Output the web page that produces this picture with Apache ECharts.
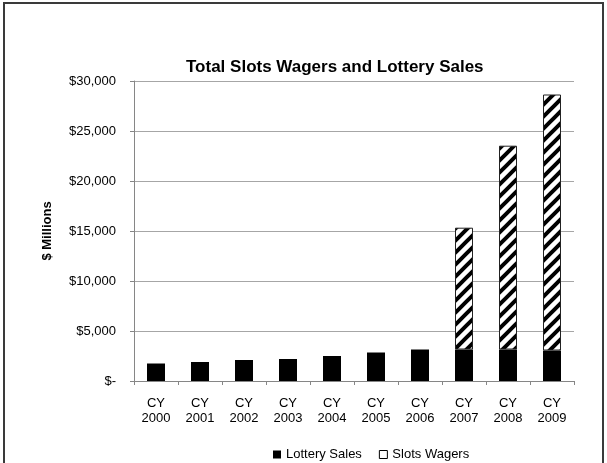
<!DOCTYPE html>
<html lang="en">
<head>
  <meta charset="UTF-8">
  <title>Total Slots Wagers and Lottery Sales</title>
  <script type="text/javascript" src="https://cdn.jsdelivr.net/npm/echarts@6/dist/echarts.min.js"></script>
  <style>
    html, body { margin: 0; padding: 0; background: #fff; }
    #chart { width: 607px; height: 463px; }
  </style>
</head>
<body>
  <div id="chart"></div>
  <script type="text/javascript">
    // values in $ millions (null = no slots yet)
    var years = ['2000', '2001', '2002', '2003', '2004', '2005', '2006', '2007', '2008', '2009'];
    var lotterySales = [1750, 1900, 2100, 2200, 2500, 2850, 3150, 3150, 3150, 3050];
    var slotsWagers = [null, null, null, null, null, null, null, 12180, 20380, 25600];
    var yTickLabels = ['$-', '$5,000', '$10,000', '$15,000', '$20,000', '$25,000', '$30,000'];

    var font = 'Liberation Sans, Arial, sans-serif';

    // diagonal black/white stripes for the slots bars
    function makeHatch() {
      var s = 12;
      var c = document.createElement('canvas');
      c.width = s; c.height = s;
      var ctx = c.getContext('2d');
      ctx.fillStyle = '#fff';
      ctx.fillRect(0, 0, s, s);
      ctx.strokeStyle = '#000';
      ctx.lineWidth = 4;
      ctx.beginPath();
      ctx.moveTo(-3, 3); ctx.lineTo(3, -3);
      ctx.moveTo(0, s); ctx.lineTo(s, 0);
      ctx.moveTo(s - 3, s + 3); ctx.lineTo(s + 3, s - 3);
      ctx.stroke();
      return c;
    }

    var chart = echarts.init(document.getElementById('chart'), null, { renderer: 'canvas' });

    var option = {
      animation: false,
      backgroundColor: '#fff',
      textStyle: { fontFamily: font },
      title: {
        text: 'Total Slots Wagers and Lottery Sales',
        left: 186,
        top: 59,
        padding: 0,
        textStyle: { fontSize: 17, fontWeight: 'bold', color: '#000', fontFamily: font }
      },
      graphic: [{
        type: 'rect',
        shape: { x: 4, y: 3, width: 599, height: 480 },
        style: { fill: 'none', stroke: '#3a3a3a', lineWidth: 2 },
        silent: true
      }],
      legend: {
        left: 273,
        top: 448,
        padding: 0,
        itemWidth: 8,
        itemHeight: 8,
        itemGap: 17,
        icon: 'rect',
        textStyle: { fontSize: 13, color: '#000', fontFamily: font },
        data: [
          { name: 'Lottery Sales', itemStyle: { color: '#000' } },
          { name: 'Slots Wagers', itemStyle: { color: '#fff', borderColor: '#000', borderWidth: 1 } }
        ]
      },
      grid: {
        left: 134,
        right: 33,
        top: 81,
        bottom: 82,
        containLabel: false
      },
      xAxis: {
        type: 'category',
        data: years.map(function (y) { return 'CY\n' + y; }),
        axisLine: { lineStyle: { color: '#868686', width: 1 } },
        axisTick: { show: true, length: 4, lineStyle: { color: '#868686' } },
        axisLabel: { fontSize: 13, color: '#000', lineHeight: 15, margin: 15, fontFamily: font, interval: 0 }
      },
      yAxis: {
        type: 'value',
        min: 0,
        max: 30000,
        interval: 5000,
        name: '$ Millions',
        nameLocation: 'middle',
        nameRotate: 90,
        nameGap: 80,
        nameTextStyle: { fontSize: 13, fontWeight: 'bold', color: '#000', fontFamily: font },
        axisLine: { show: true, lineStyle: { color: '#868686', width: 1 } },
        axisTick: { show: true, length: 4, lineStyle: { color: '#868686' } },
        splitLine: { lineStyle: { color: '#a6a6a6', width: 1 } },
        axisLabel: {
          fontSize: 13,
          color: '#000',
          margin: 18,
          fontFamily: font,
          formatter: function (v) { return yTickLabels[Math.round(v / 5000)]; }
        }
      },
      series: [
        {
          name: 'Lottery Sales',
          type: 'bar',
          stack: 'total',
          barWidth: 18,
          data: lotterySales,
          itemStyle: { color: '#000' }
        },
        {
          name: 'Slots Wagers',
          type: 'bar',
          stack: 'total',
          barWidth: 18,
          data: slotsWagers,
          itemStyle: {
            color: { image: makeHatch(), repeat: 'repeat' },
            borderColor: '#222',
            borderWidth: 1
          }
        }
      ]
    };

    chart.setOption(option);
  </script>
</body>
</html>
